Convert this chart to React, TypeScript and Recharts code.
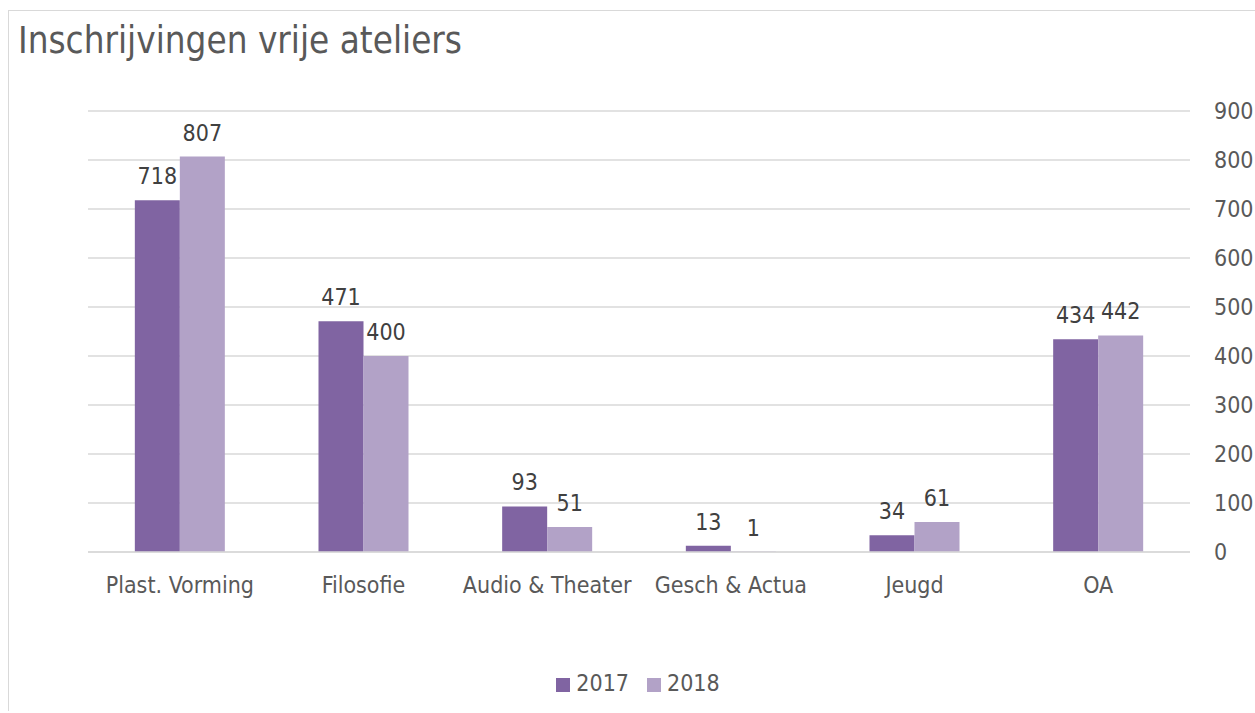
import React from 'react';
import { BarChart, Bar, XAxis, YAxis, CartesianGrid, Legend, LabelList } from 'recharts';

const categories = ['Plast. Vorming', 'Filosofie', 'Audio & Theater', 'Gesch & Actua', 'Jeugd', 'OA'];
const values2017 = [718, 471, 93, 13, 34, 434];
const values2018 = [807, 400, 51, 1, 61, 442];
const seriesNames = ['2017', '2018'];
const yTicks = [0, 100, 200, 300, 400, 500, 600, 700, 800, 900];
const title = 'Inschrijvingen vrije ateliers';

const colors = ['#8064A2', '#B2A2C7'];
const FONT = "'DejaVu Sans Condensed', 'DejaVu Sans', sans-serif";

const data = categories.map((c, i) => ({ name: c, s2017: values2017[i], s2018: values2018[i] }));

export default function App() {
  return (
    <div
      style={{
        position: 'relative',
        width: 1247,
        height: 700,
        marginTop: 10,
        marginLeft: 8,
        border: '1px solid #d9d9d9',
        borderRight: 'none',
        borderBottom: 'none',
        fontFamily: FONT,
        background: '#fff',
      }}
    >
      <style>{'html, body { margin: 0; overflow: hidden; }'}</style>
      <div
        style={{
          position: 'absolute',
          left: 9,
          top: 8,
          fontSize: 36.5,
          color: '#595959',
          fontFamily: FONT,
          whiteSpace: 'nowrap',
        }}
      >
        {title}
      </div>
      <BarChart
        width={1246}
        height={700}
        data={data}
        margin={{ top: 100, right: 5, left: 79, bottom: 11 }}
        barCategoryGap="25.5%"
        barGap={0}
      >
        <CartesianGrid vertical={false} stroke="#d9d9d9" strokeWidth={1.3} />
        <XAxis
          dataKey="name"
          tickLine={false}
          axisLine={{ stroke: '#d9d9d9', strokeWidth: 1.3 }}
          tickSize={0}
          tickMargin={25}
          height={118}
          interval={0}
          tick={{ fill: '#595959', fontSize: 23, fontFamily: FONT }}
        />
        <YAxis
          orientation="right"
          domain={[0, 900]}
          ticks={yTicks}
          axisLine={false}
          tickLine={false}
          tickSize={0}
          tickMargin={24}
          width={60}
          tick={{ fill: '#595959', fontSize: 23, fontFamily: FONT }}
        />
        <Legend
          verticalAlign="bottom"
          align="center"
          height={30}
          iconType="square"
          iconSize={14}
          wrapperStyle={{ fontSize: 23, fontFamily: FONT, left: 0, width: 1276 }}
          formatter={(value: string) => (
            <span style={{ color: '#595959', paddingLeft: 2, paddingRight: 8 }}>{value}</span>
          )}
        />
        <Bar dataKey="s2017" name={seriesNames[0]} fill={colors[0]} isAnimationActive={false}>
          <LabelList dataKey="s2017" position="top" offset={16} fill="#404040" fontSize={23} fontFamily={FONT} />
        </Bar>
        <Bar dataKey="s2018" name={seriesNames[1]} fill={colors[1]} isAnimationActive={false}>
          <LabelList dataKey="s2018" position="top" offset={16} fill="#404040" fontSize={23} fontFamily={FONT} />
        </Bar>
      </BarChart>
    </div>
  );
}
